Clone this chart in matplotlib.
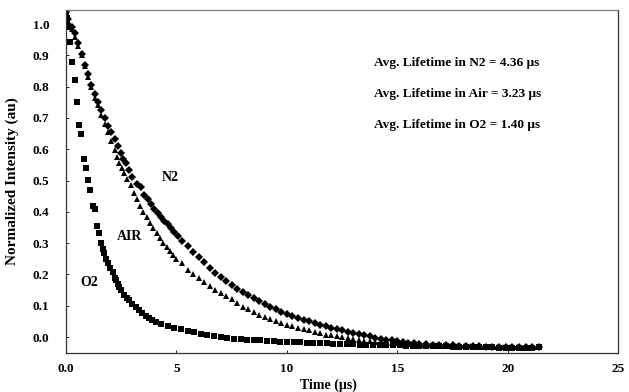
import numpy as np
import matplotlib
matplotlib.use('Agg')
import matplotlib.pyplot as plt

# values
n2_t = [0.0, 0.1, 0.25, 0.4, 0.55, 0.7, 0.85, 1.0, 1.15, 1.3, 1.45, 1.6, 1.75, 1.9, 2.05, 2.2,
        2.35, 2.5, 2.6, 2.71, 2.85, 3.0, 3.2, 3.38, 3.55, 3.7, 3.85, 4.0, 4.15, 4.3, 4.45, 4.6,
        4.75, 4.9, 5.05, 5.25, 5.5, 5.75, 6.0, 6.25, 6.5, 6.75, 7.0, 7.25, 7.5, 7.75, 8.0, 8.25,
        8.5, 8.75, 9.0, 9.25, 9.5, 9.75, 10.0, 10.25, 10.5, 10.75, 11.0, 11.25, 11.5, 11.75,
        12.0, 12.25, 12.5, 12.75, 13.0, 13.25, 13.5, 13.75, 14.0, 14.25, 14.5, 14.75, 15.0,
        15.25, 15.5, 15.75, 16.0, 16.3, 16.6, 16.9, 17.2, 17.5, 17.8, 18.1, 18.4, 18.7, 19.0,
        19.3, 19.6, 19.9, 20.2, 20.5, 20.8, 21.1, 21.4]
n2_i = [1.04, 1.015, 0.99, 0.97, 0.94, 0.905, 0.87, 0.84, 0.805, 0.775, 0.75, 0.725, 0.70, 0.675,
        0.655, 0.632, 0.61, 0.587, 0.57, 0.555, 0.535, 0.512, 0.49, 0.48, 0.455, 0.44, 0.425,
        0.41, 0.397, 0.385, 0.372, 0.36, 0.35, 0.335, 0.322, 0.308, 0.29, 0.272, 0.255, 0.24,
        0.222, 0.205, 0.192, 0.18, 0.166, 0.155, 0.145, 0.135, 0.125, 0.115, 0.106, 0.097, 0.088,
        0.08, 0.074, 0.068, 0.062, 0.056, 0.05, 0.044, 0.039, 0.034, 0.03, 0.026, 0.021, 0.016,
        0.012, 0.009, 0.005, 0.002, -0.002, -0.005, -0.008, -0.011, -0.013, -0.015, -0.018,
        -0.02, -0.021, -0.023, -0.024, -0.025, -0.026, -0.027, -0.028, -0.029, -0.03, -0.03,
        -0.031, -0.031, -0.032, -0.032, -0.033, -0.033, -0.032, -0.033, -0.032]

air_t = [0.0, 0.1, 0.25, 0.4, 0.55, 0.7, 0.85, 1.0, 1.15, 1.3, 1.45, 1.6, 1.75, 1.9, 2.05, 2.2,
         2.3, 2.41, 2.52, 2.63, 2.78, 2.93, 3.08, 3.2, 3.35, 3.5, 3.65, 3.8, 3.95, 4.1, 4.25, 4.4,
         4.55, 4.7, 4.85, 5.0, 5.25, 5.5, 5.75, 6.0, 6.25, 6.5, 6.75, 7.0, 7.25, 7.5, 7.75, 8.0,
         8.25, 8.5, 8.75, 9.0, 9.25, 9.5, 9.75, 10.0, 10.25, 10.5, 10.75, 11.0, 11.25, 11.5,
         11.75, 12.0, 12.25, 12.5, 12.75, 13.0, 13.25, 13.5, 13.75, 14.0, 14.25, 14.5, 14.75,
         15.0, 15.3, 15.6, 15.9, 16.2, 16.5, 16.8, 17.1, 17.4, 17.7, 18.0, 18.3, 18.6, 18.9,
         19.2, 19.5, 19.8, 20.1, 20.4, 20.7, 21.0, 21.3]
air_i = [1.04, 1.01, 0.985, 0.96, 0.93, 0.90, 0.865, 0.83, 0.80, 0.765, 0.74, 0.71, 0.68, 0.655,
         0.625, 0.597, 0.575, 0.555, 0.54, 0.523, 0.505, 0.486, 0.459, 0.44, 0.42, 0.40, 0.383,
         0.365, 0.348, 0.332, 0.316, 0.30, 0.288, 0.275, 0.262, 0.25, 0.235, 0.215, 0.20, 0.188,
         0.176, 0.163, 0.151, 0.14, 0.13, 0.12, 0.108, 0.097, 0.088, 0.08, 0.072, 0.064, 0.057,
         0.05, 0.044, 0.04, 0.035, 0.03, 0.026, 0.021, 0.017, 0.012, 0.008, 0.005, 0.002,
         -0.001, -0.004, -0.007, -0.01, -0.012, -0.014, -0.016, -0.017, -0.018, -0.019, -0.02,
         -0.022, -0.023, -0.024, -0.025, -0.026, -0.027, -0.028, -0.029, -0.029, -0.03, -0.03,
         -0.031, -0.031, -0.032, -0.032, -0.033, -0.033, -0.033, -0.034, -0.034, -0.033]

o2_t = [0.0, 0.05, 0.1, 0.18, 0.28, 0.4, 0.5, 0.59, 0.67, 0.8, 0.89, 1.01, 1.1, 1.22, 1.29, 1.41,
        1.49, 1.59, 1.67, 1.74, 1.82, 1.89, 2.0, 2.11, 2.2, 2.26, 2.35, 2.41, 2.5, 2.63, 2.75,
        2.86, 3.0, 3.16, 3.3, 3.45, 3.6, 3.75, 3.9, 4.05, 4.3, 4.6, 4.9, 5.2, 5.5, 5.8, 6.1, 6.4,
        6.7, 7.0, 7.3, 7.6, 7.9, 8.2, 8.5, 8.8, 9.1, 9.4, 9.7, 10.0, 10.3, 10.6, 10.9, 11.2,
        11.5, 11.8, 12.1, 12.4, 12.7, 13.0, 13.3, 13.6, 13.9, 14.2, 14.5, 14.8, 15.1, 15.4, 15.7,
        16.0, 16.3, 16.6, 16.9, 17.2, 17.5, 17.8, 18.1, 18.4, 18.7, 19.0, 19.3, 19.6, 19.9,
        20.2, 20.5, 20.8, 21.1, 21.4]
o2_i = [1.04, 1.02, 0.99, 0.943, 0.878, 0.821, 0.75, 0.677, 0.648, 0.568, 0.539, 0.502, 0.47,
        0.42, 0.41, 0.355, 0.331, 0.299, 0.28, 0.267, 0.25, 0.235, 0.22, 0.209, 0.19, 0.182, 0.17,
        0.161, 0.15, 0.134, 0.125, 0.118, 0.105, 0.097, 0.085, 0.076, 0.066, 0.062, 0.055, 0.049,
        0.042, 0.036, 0.03, 0.026, 0.02, 0.016, 0.01, 0.006, 0.002, 0.0, -0.003, -0.005, -0.006,
        -0.009, -0.01, -0.011, -0.013, -0.014, -0.015, -0.016, -0.017, -0.017, -0.018, -0.019,
        -0.019, -0.02, -0.021, -0.021, -0.022, -0.023, -0.024, -0.024, -0.025, -0.026, -0.026,
        -0.027, -0.027, -0.028, -0.028, -0.029, -0.029, -0.03, -0.03, -0.03, -0.031, -0.031,
        -0.032, -0.032, -0.033, -0.033, -0.033, -0.034, -0.034, -0.034, -0.035, -0.035, -0.034,
        -0.033]

lifetimes = ['Avg. Lifetime in N2 = 4.36 \u00b5s',
             'Avg. Lifetime in Air = 3.23 \u00b5s',
             'Avg. Lifetime in O2 = 1.40 \u00b5s']
xticks = [0, 5, 10, 15, 20, 25]
xtick_labels = ['0.0', '5', '10', '15', '20', '25']
yticks = np.arange(0, 1.01, 0.1)

plt.rcParams['font.family'] = ['Liberation Serif', 'DejaVu Serif']
plt.rcParams['font.weight'] = 'bold'

fig = plt.figure(figsize=(6.29, 3.92), dpi=100)
ax = fig.add_axes([0.105, 0.0995, 0.878, 0.875])

ax.plot(n2_t, n2_i, 'D', color='black', markersize=4.3, markeredgewidth=0)
ax.plot(air_t, air_i, '^', color='black', markersize=5.0, markeredgewidth=0)
ax.plot(o2_t, o2_i, 's', color='black', markersize=4.2, markeredgewidth=0)

ax.set_xlim(0, 25)
ax.set_ylim(-0.051, 1.045)
ax.set_xticks(xticks)
ax.set_xticklabels(xtick_labels)
ax.set_yticks(yticks)
ax.set_yticklabels(['%.1f' % v for v in yticks])
ax.tick_params(axis='both', direction='in', length=2, width=0.6, labelsize=9.5)
ax.tick_params(axis='y', pad=12)
ax.tick_params(axis='x', pad=7)

for s in ax.spines.values():
    s.set_linewidth(0.9)
    s.set_color('#333333')
ax.spines['top'].set_color('#777777')

ax.set_xlabel('Time (\u00b5s)', fontsize=10, fontweight='bold')
ax.xaxis.set_label_coords(0.475, -0.075)
ax.set_ylabel('Normalized Intensity (au)', fontsize=11, fontweight='bold')
ax.yaxis.set_label_coords(-0.086, 0.5)

# curve names
ax.text(4.7, 0.51, 'N2', fontsize=10, fontweight='bold', ha='center', va='center')
ax.text(2.86, 0.32, 'AIR', fontsize=10, fontweight='bold', ha='center', va='center')
ax.text(1.03, 0.173, 'O2', fontsize=10, fontweight='bold', ha='center', va='center')

for k, txt in enumerate(lifetimes):
    ax.text(13.95, 0.875 - k * 0.099, txt, fontsize=9.6, fontweight='bold', ha='left', va='center')

plt.savefig('out.png', dpi=100)
